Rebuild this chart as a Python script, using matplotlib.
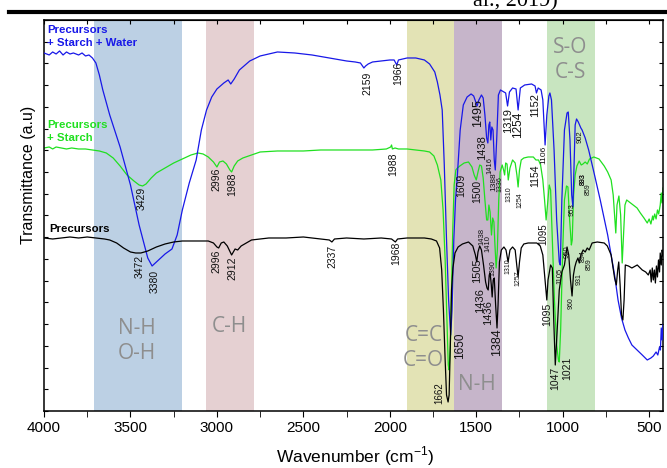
import matplotlib
matplotlib.use("Agg")
import matplotlib.pyplot as plt
from matplotlib.lines import Line2D
from matplotlib.ticker import MultipleLocator
import numpy as np

plt.rcParams['font.family'] = ['Liberation Sans', 'DejaVu Sans']
plt.rcParams['mathtext.fontset'] = 'custom'
plt.rcParams['mathtext.rm'] = 'Liberation Sans'

# FTIR spectra (wavenumber, transmittance in a.u.)
water_wn = [4000, 3970, 3950, 3930, 3910, 3890, 3870, 3850, 3830, 3800, 3780, 3760, 3740, 3720, 3700,
            3680, 3660, 3620, 3560, 3500, 3450, 3400, 3375, 3350, 3300, 3260, 3230, 3200, 3160, 3120,
            3090, 3060, 3030, 3000, 2960, 2935, 2920, 2900, 2870, 2810, 2750, 2650, 2550, 2450, 2350,
            2250, 2200, 2170, 2150, 2140, 2125, 2100, 2050, 2000, 1975, 1960, 1950, 1900, 1850, 1800,
            1770, 1740, 1725, 1710, 1697, 1685, 1672, 1660, 1648, 1640, 1630, 1620, 1611, 1593, 1575,
            1553, 1530, 1515, 1505, 1495, 1485, 1470, 1460, 1450, 1440, 1433, 1427, 1422, 1416, 1410,
            1403, 1396, 1390, 1382, 1372, 1360, 1340, 1330, 1319, 1308, 1290, 1270, 1258, 1245, 1220,
            1180, 1160, 1152, 1142, 1125, 1115, 1102, 1092, 1080, 1074, 1065, 1050, 1035, 1020, 1014,
            1005, 990, 975, 968, 958, 948, 941, 935, 928, 920, 910, 895, 888, 870, 850,
            820, 783, 740, 700, 680, 660, 640, 620, 600, 570, 540, 511, 490, 476, 460,
            450, 440, 435, 430, 425, 420]
water_t = [358, 356, 359, 357, 360, 356, 359, 357, 358, 356, 358, 355, 356, 353, 348,
           336, 321, 296, 264, 226, 186, 153, 145, 149, 157, 162, 176, 201, 228, 251,
           281, 301, 314, 322, 328, 331, 327, 332, 341, 350, 355, 359, 358, 356, 353,
           350, 349, 348, 343, 345, 347, 349, 350, 351, 351, 346, 351, 353, 353, 351,
           347, 339, 329, 316, 301, 246, 171, 111, 76, 101, 171, 211, 231, 281, 306,
           314, 317, 315, 310, 305, 311, 316, 313, 296, 273, 268, 286, 289, 271, 284,
           281, 251, 241, 271, 316, 321, 319, 318, 305, 319, 323, 322, 301, 323, 326,
           327, 325, 318, 323, 321, 311, 266, 296, 315, 318, 311, 261, 191, 149, 146,
           211, 281, 298, 299, 271, 216, 204, 241, 286, 292, 289, 283, 281, 273, 261,
           239, 211, 176, 136, 111, 93, 81, 73, 66, 61, 56, 51, 53, 55, 59,
           56, 64, 61, 83, 71, 86]

starch_wn = [4000, 3970, 3950, 3930, 3900, 3870, 3840, 3800, 3760, 3720, 3680, 3640, 3600, 3560, 3520,
             3480, 3450, 3430, 3410, 3380, 3350, 3300, 3250, 3200, 3150, 3110, 3080, 3050, 3020, 3000,
             2985, 2965, 2945, 2925, 2915, 2900, 2880, 2850, 2800, 2750, 2650, 2500, 2400, 2300, 2200,
             2100, 2020, 1995, 1990, 1985, 1970, 1950, 1900, 1850, 1800, 1770, 1745, 1725, 1705, 1692,
             1680, 1670, 1662, 1657, 1650, 1643, 1636, 1628, 1618, 1609, 1595, 1570, 1545, 1525, 1512,
             1500, 1490, 1480, 1470, 1460, 1450, 1440, 1433, 1427, 1420, 1412, 1405, 1398, 1392, 1385,
             1378, 1370, 1362, 1350, 1342, 1336, 1330, 1322, 1315, 1305, 1290, 1275, 1265, 1258, 1250,
             1240, 1225, 1200, 1170, 1155, 1140, 1128, 1115, 1105, 1096, 1088, 1078, 1070, 1060, 1048,
             1035, 1025, 1020, 1012, 1000, 990, 978, 970, 960, 950, 945, 937, 928, 918, 905,
             893, 883, 870, 858, 845, 820, 790, 760, 740, 720, 708, 700, 693, 686, 675,
             665, 656, 648, 640, 630, 600, 570, 551, 530, 511, 500, 490, 480, 476, 468,
             460, 452, 445, 436, 430, 426, 420]
starch_t = [263, 264, 262, 264, 263, 262, 263, 262, 262, 261, 260, 258, 253, 245, 236,
            230, 226, 225, 227, 233, 238, 243, 248, 252, 256, 258, 257, 254, 249, 244,
            249, 250, 247, 241, 239, 245, 250, 253, 256, 259, 260, 260, 261, 261, 261,
            261, 262, 264, 266, 262, 263, 262, 262, 261, 260, 259, 255, 246, 231, 201,
            151, 91, 46, 41, 66, 121, 181, 226, 241, 243, 245, 248, 249, 244, 236,
            231, 239, 246, 245, 233, 211, 191, 191, 206, 199, 176, 193, 189, 166, 143,
            161, 211, 239, 246, 241, 236, 248, 247, 231, 243, 251, 248, 236, 224, 241,
            251, 253, 254, 254, 251, 251, 246, 231, 211, 191, 206, 226, 221, 171, 111,
            66, 51, 49, 81, 161, 211, 225, 224, 191, 166, 171, 216, 236, 245, 250,
            246, 247, 249, 247, 252, 254, 252, 245, 239, 231, 216, 196, 178, 206, 215,
            196, 148, 176, 206, 211, 207, 203, 198, 193, 188, 192, 187, 195, 191, 197,
            192, 201, 197, 206, 218, 208, 223]

prec_wn = [4000, 3950, 3900, 3850, 3800, 3750, 3700, 3650, 3620, 3580, 3540, 3500, 3470, 3440, 3400,
           3350, 3300, 3250, 3200, 3100, 3050, 3020, 3000, 2990, 2975, 2960, 2940, 2915, 2895, 2880,
           2860, 2830, 2800, 2750, 2700, 2600, 2500, 2400, 2350, 2335, 2320, 2250, 2150, 2050, 1990,
           1968, 1955, 1900, 1850, 1800, 1760, 1730, 1712, 1700, 1690, 1680, 1672, 1663, 1657, 1650,
           1643, 1635, 1623, 1605, 1580, 1545, 1520, 1505, 1497, 1490, 1480, 1470, 1458, 1446, 1438,
           1431, 1425, 1420, 1413, 1408, 1402, 1396, 1388, 1380, 1374, 1366, 1355, 1340, 1328, 1316,
           1305, 1290, 1275, 1266, 1258, 1250, 1240, 1225, 1200, 1150, 1130, 1115, 1100, 1092, 1085,
           1070, 1060, 1052, 1043, 1035, 1020, 1005, 990, 975, 965, 955, 946, 938, 930, 922,
           912, 904, 895, 882, 870, 858, 847, 830, 800, 760, 742, 720, 700, 690, 682,
           676, 668, 660, 652, 645, 638, 620, 600, 569, 540, 520, 505, 494, 488, 482,
           476, 470, 464, 458, 452, 446, 440, 436, 430, 425, 420]
prec_t = [173, 172, 173, 174, 173, 174, 173, 172, 171, 168, 163, 159, 158, 158, 160,
          164, 167, 169, 170, 170, 170, 168, 164, 163, 168, 169, 165, 156, 162, 161,
          165, 168, 171, 172, 173, 173, 174, 172, 171, 169, 172, 173, 172, 173, 172,
          169, 172, 173, 173, 173, 172, 170, 163, 141, 101, 51, 16, 9, 16, 66,
          121, 143, 158, 164, 167, 169, 165, 156, 149, 159, 165, 161, 146, 129, 123,
          121, 136, 138, 126, 114, 131, 133, 106, 83, 106, 149, 161, 164, 161, 149,
          161, 164, 161, 146, 134, 149, 163, 167, 168, 168, 165, 156, 126, 111, 131,
          146, 143, 91, 46, 71, 121, 139, 146, 164, 156, 131, 115, 136, 144, 149,
          153, 148, 156, 161, 159, 163, 161, 168, 169, 168, 165, 156, 133, 126, 141,
          149, 126, 96, 91, 111, 146, 145, 143, 146, 141, 139, 136, 141, 129, 143,
          131, 141, 128, 145, 134, 151, 139, 158, 146, 161, 155]

# absorption band regions (cm-1) and their labels
bands = [(3712, 3203, '#bcd0e4', 'N-H\nO-H'),
         (3065, 2786, '#e5d0d2', 'C-H'),
         (1900, 1628, '#e3e3b5', 'C=C\nC=O'),
         (1628, 1350, '#c6b5ca', 'N-H'),
         (1089, 812, '#c8e5c0', 'S-O\nC-S')]
band_text_pos = [(3462, 70), (2930, 84), (1806, 63), (1495, 26), (956, 351)]

# peak labels: text, wavenumber, top of label (a.u.), size
peaks = [("3380", 3359, 141, 7.5), ("2159", 2132, 339, 7.5), ("1966", 1952, 349, 7.5),
         ("1495", 1489, 312, 9), ("1319", 1315, 303, 8), ("1254", 1258, 299, 8.5),
         ("1152", 1159, 318, 8), ("1106", 1107, 265, 6), ("1438", 1466, 276, 8),
         ("1416", 1420, 254, 5.5), ("1388", 1397, 239, 6), ("902", 899, 281, 5.5),
         ("953", 945, 208, 5.5),
         ("3429", 3434, 224, 7.5), ("2996", 3000, 243, 7.5), ("1988", 2913, 238, 7.5),
         ("1988", 1981, 258, 7.5), ("1609", 1588, 237, 7.5), ("1500", 1495, 231, 7.5),
         ("1438", 1466, 183, 5.5), ("1410", 1431, 176, 5.5), ("1336", 1362, 235, 5),
         ("1310", 1310, 225, 5), ("1254", 1246, 219, 5), ("1154", 1159, 246, 7.5),
         ("1095", 1113, 188, 7), ("893", 881, 238, 5), ("883", 881, 238, 5),
         ("859", 852, 228, 5), ("1021", 974, 54, 7.5),
         ("3472", 3446, 156, 7.5), ("2996", 3000, 161, 7.5), ("2912", 2913, 154, 7.5),
         ("2337", 2329, 166, 7.5), ("1968", 1964, 169, 7.5), ("1662", 1715, 29, 7),
         ("1650", 1593, 78, 8.5), ("1505", 1495, 153, 8), ("1436", 1478, 123, 8),
         ("1436", 1431, 111, 8), ("1384", 1379, 83, 9), ("1390", 1402, 151, 5),
         ("1310", 1315, 153, 5), ("1257", 1258, 141, 5), ("1095", 1090, 108, 7.5),
         ("1047", 1043, 44, 7.5), ("1105", 1014, 143, 5.5), ("950", 974, 166, 5.5),
         ("960", 951, 114, 5), ("931", 904, 138, 5), ("894", 881, 161, 5),
         ("859", 847, 153, 5)]

fig = plt.figure(figsize=(6.67, 4.68), dpi=100)
ax = fig.add_axes([0.066, 0.1218, 0.928, 0.8355])

for lo, hi, col, txt in bands:
    ax.axvspan(hi, lo, color=col, lw=0, zorder=0)
for (lo, hi, col, txt), (tx, ty) in zip(bands, band_text_pos):
    ax.text(tx, ty, txt, ha='center', va='center', fontsize=15, color='#8e8e8e',
            family=['Open Sans', 'DejaVu Sans'], linespacing=1.25, zorder=1)

ax.plot(water_wn, water_t, color='#1818e8', lw=0.9, zorder=3)
ax.plot(starch_wn, starch_t, color='#20e020', lw=0.9, zorder=2)
ax.plot(prec_wn, prec_t, color='black', lw=0.9, zorder=4)

for txt, wn, top, size in peaks:
    ax.text(wn, top, txt, rotation=90, ha='center', va='top', fontsize=size, color='#111111', zorder=5)

ax.set_xlim(4000, 420)
ax.set_ylim(0, 391)
ax.xaxis.set_major_locator(MultipleLocator(500))
ax.xaxis.set_minor_locator(MultipleLocator(250))
ax.set_yticks(np.linspace(0, 391, 19))
ax.set_yticklabels([])
ax.tick_params(axis='x', which='both', direction='out', length=4, labelsize=11, top=False)
ax.tick_params(axis='y', which='both', direction='in', length=3, right=True)
for s in ax.spines.values():
    s.set_linewidth(1.1)

# inward ticks on the top edge
top = ax.secondary_xaxis('top')
top.xaxis.set_major_locator(MultipleLocator(250))
top.tick_params(direction='in', length=3, labeltop=False)

fig.text(355 / 667, 0.012, 'Wavenumber (cm$^{\\mathregular{-1}}$)', ha='center', va='baseline', fontsize=12.5)
fig.text(29 / 667, 1 - 175 / 468, 'Transmittance (a.u)', rotation=90, ha='center', va='center', fontsize=11.5)

fig.text(47 / 667, 1 - 30 / 468, 'Precursors', color='#1818e8', fontsize=8.2, weight='bold', va='center')
fig.text(47 / 667, 1 - 43 / 468, '+ Starch + Water', color='#1818e8', fontsize=8.2, weight='bold', va='center')
fig.text(47 / 667, 1 - 125 / 468, 'Precursors', color='#20e020', fontsize=8.2, weight='bold', va='center')
fig.text(47 / 667, 1 - 138 / 468, '+ Starch', color='#20e020', fontsize=8.2, weight='bold', va='center')
fig.text(49 / 667, 1 - 229 / 468, 'Precursors', color='black', fontsize=8.2, weight='bold', va='center')

# header rule and caption fragment from the source page
fig.add_artist(Line2D([9 / 667, 1], [1 - 12 / 468, 1 - 12 / 468], color='black', lw=3, transform=fig.transFigure))
fig.text(473 / 667, 1 - 6 / 468, 'al., 2019)', family=['Liberation Serif', 'DejaVu Serif'], fontsize=16, va='baseline')

fig.savefig('out.png', dpi=100)
